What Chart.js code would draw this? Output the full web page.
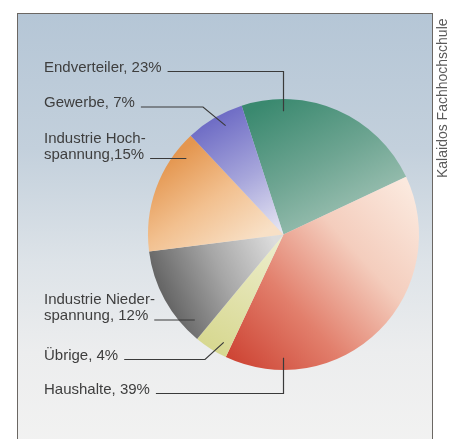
<!DOCTYPE html>
<html>
<head>
<meta charset="utf-8">
<script src="https://cdn.jsdelivr.net/npm/chart.js@4.4.1/dist/chart.umd.min.js"></script>
<style>
  html, body { margin: 0; padding: 0; background: #fff; }
  #wrap { position: relative; width: 449px; height: 439px; overflow: hidden; }
  #frame {
    position: absolute; left: 17px; top: 13px; width: 414px; height: 450px;
    border: 1.5px solid #6b6763;
    background: linear-gradient(180deg, #b5c6d6 0%, #c3d0dc 30%, #dde3e8 55%, #ecedee 75%, #f3f3f2 100%);
  }
  #chart { position: absolute; left: 0; top: 0; }
</style>
</head>
<body>
<div id="wrap">
  <div id="frame"></div>
  <canvas id="chart" width="449" height="439"></canvas>
</div>
<script>
// Stromverbrauch nach Abnehmergruppen (Anteile in %)
var categories = ["Endverteiler", "Haushalte", "Übrige", "Industrie Niederspannung", "Industrie Hochspannung", "Gewerbe"];
var shares = [23, 39, 4, 12, 15, 7];
// Beschriftung wie im Original gesetzt (Trennstriche, Zeilen)
var labelLines = [
  ["Endverteiler, 23%"],
  ["Haushalte, 39%"],
  ["Übrige, 4%"],
  ["Industrie Nieder-", "spannung, 12%"],
  ["Industrie Hoch-", "spannung,15%"],
  ["Gewerbe, 7%"]
];

// Farbverläufe je Segment: Stopps, von/nach als [Winkel ab 12 Uhr, Radiusanteil]
var SHADES = [
  { stops: ["#3a896f", "#6ea592", "#a6c6b9"], from: [-5, 1], to: [95, 0.45] },
  { stops: ["#cd4333", "#e27f6c", "#f4cdbd", "#fbe9de"], from: [205, 1], to: [70, 1] },
  { stops: ["#d7d890", "#eeeecf"], from: [212, 1], to: [212, 0] },
  { stops: ["#646464", "#a6a6a6", "#dcdcdc"], from: [245, 1], to: [245, 0.08] },
  { stops: ["#e4964f", "#f2c08f", "#f8e0c6"], from: [305, 1], to: [250, 0.35] },
  { stops: ["#6e6cc5", "#a7a6db", "#ebeaf4"], from: [330, 1], to: [330, 0] }
];

// Führungslinien: Grundlinie des Textes, Ankerwinkel im Segment, Knick
var LEADERS = [
  { base: 71.5, angle: 0, elbow: "v" },
  { base: 393.5, angle: 180, elbow: "v" },
  { base: 359.5, angle: 209, elbow: 205 },
  { base: 320, angle: 226, elbow: null },
  { base: 158.5, angle: 308, elbow: null },
  { base: 107, angle: 332, elbow: 203 }
];
var TEXT_X = 44, LINE_H = 16, ANCHOR_R = 0.91;
var FONT = "15px 'Liberation Sans', Arial, sans-serif";
var INK = "#3e3e3e";

function polar(cx, cy, r, deg, f) {
  var t = deg * Math.PI / 180;
  return { x: cx + Math.sin(t) * r * f, y: cy - Math.cos(t) * r * f };
}

function sliceFill(c) {
  var s = SHADES[c.dataIndex];
  var a = c.chart.chartArea;
  if (!a) return s.stops[0];
  var cx = (a.left + a.right) / 2, cy = (a.top + a.bottom) / 2;
  var r = Math.min(a.width, a.height) / 2;
  var p = polar(cx, cy, r, s.from[0], s.from[1]);
  var q = polar(cx, cy, r, s.to[0], s.to[1]);
  var g = c.chart.ctx.createLinearGradient(p.x, p.y, q.x, q.y);
  s.stops.forEach(function (col, i) { g.addColorStop(i / (s.stops.length - 1), col); });
  return g;
}

var leaderPlugin = {
  id: "leaders",
  afterDraw: function (chart) {
    var ctx = chart.ctx;
    var arc = chart.getDatasetMeta(0).data[0];
    if (!arc) return;
    var cx = arc.x, cy = arc.y, r = arc.outerRadius;
    ctx.save();
    ctx.font = FONT;
    ctx.fillStyle = INK;
    ctx.strokeStyle = "#3a3a3a";
    ctx.lineWidth = 1.2;
    ctx.textBaseline = "alphabetic";
    LEADERS.forEach(function (L, i) {
      var lines = labelLines[i];
      var n = lines.length;
      lines.forEach(function (t, k) {
        ctx.fillText(t, TEXT_X, L.base - (n - 1 - k) * LINE_H);
      });
      var x0 = TEXT_X + ctx.measureText(lines[n - 1]).width + 6;
      var p = polar(cx, cy, r, L.angle, ANCHOR_R);
      ctx.beginPath();
      ctx.moveTo(x0, L.base);
      if (L.elbow === "v") ctx.lineTo(p.x, L.base);
      else if (typeof L.elbow === "number") ctx.lineTo(L.elbow, L.base);
      ctx.lineTo(p.x, L.elbow === null ? L.base : p.y);
      ctx.stroke();
    });
    // Quellenangabe, senkrecht am rechten Rand
    ctx.translate(446.5, 178);
    ctx.rotate(-Math.PI / 2);
    ctx.font = "14px 'Liberation Sans', Arial, sans-serif";
    ctx.fillStyle = "#5a5a5a";
    ctx.fillText("Kalaidos Fachhochschule", 0, 0);
    ctx.restore();
  }
};

new Chart(document.getElementById("chart"), {
  type: "pie",
  data: {
    labels: categories,
    datasets: [{
      data: shares,
      backgroundColor: sliceFill,
      borderWidth: 0,
      hoverOffset: 0
    }]
  },
  options: {
    responsive: false,
    animation: false,
    events: [],
    rotation: -18,
    layout: { padding: { left: 148, right: 30, top: 99, bottom: 69 } },
    plugins: { legend: { display: false }, tooltip: { enabled: false } }
  },
  plugins: [leaderPlugin]
});
</script>
</body>
</html>
